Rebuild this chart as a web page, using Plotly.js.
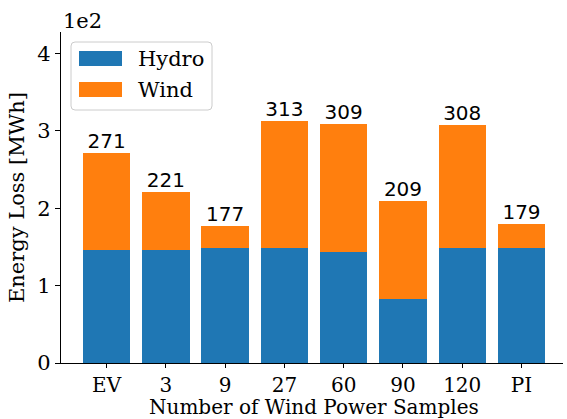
<!DOCTYPE html>
<html>
<head>
<meta charset="utf-8">
<script src="https://cdn.plot.ly/plotly-3.0.1.min.js"></script>
<style>body{margin:0;padding:0;background:#fff;} #chart{width:567px;height:419px;}</style>
</head>
<body>
<div id="chart"></div>
<script>
const categories = ['EV', '3', '9', '27', '60', '90', '120', 'PI'];
const hydro = [146, 146, 148, 148, 144, 83, 149, 149];
const wind = [125, 75, 29, 165, 165, 126, 159, 30];
const totals = [271, 221, 177, 313, 309, 209, 308, 179];
const yTickVals = [0, 100, 200, 300, 400];
const yTickText = ['0', '1', '2', '3', '4'];

const W = 567, H = 419;
const M = {l: 61, r: 4, t: 32, b: 56};
const pw = W - M.l - M.r, ph = H - M.t - M.b;
const px = x => (x - M.l) / pw;
const py = y => (H - M.b - y) / ph;

const serif = 'DejaVu Serif';
const FS = 21;
const idx = categories.map((_, i) => i);

const traces = [
  {type: 'bar', x: idx, y: hydro, name: 'Hydro', marker: {color: '#1f77b4'}, width: 0.8, showlegend: false, hoverinfo: 'skip'},
  {type: 'bar', x: idx, y: wind, name: 'Wind', marker: {color: '#ff7f0e'}, width: 0.8, showlegend: false, hoverinfo: 'skip'},
  {type: 'scatter', mode: 'text', x: idx, y: totals, text: totals.map(String), textposition: 'top center',
   textfont: {family: 'DejaVu Sans', size: 20, color: '#000'}, showlegend: false, hoverinfo: 'skip', cliponaxis: false}
];

// legend drawn manually
const lx0 = 71, ly0 = 42, lx1 = 212, ly1 = 110, r = 4;
const legPath = `M ${px(lx0 + r)} ${py(ly0)} L ${px(lx1 - r)} ${py(ly0)} Q ${px(lx1)} ${py(ly0)} ${px(lx1)} ${py(ly0 + r)} ` +
  `L ${px(lx1)} ${py(ly1 - r)} Q ${px(lx1)} ${py(ly1)} ${px(lx1 - r)} ${py(ly1)} L ${px(lx0 + r)} ${py(ly1)} ` +
  `Q ${px(lx0)} ${py(ly1)} ${px(lx0)} ${py(ly1 - r)} L ${px(lx0)} ${py(ly0 + r)} Q ${px(lx0)} ${py(ly0)} ${px(lx0 + r)} ${py(ly0)} Z`;

const legendItems = [['Hydro', '#1f77b4', 51, 66], ['Wind', '#ff7f0e', 82, 97]];
const shapes = [
  {type: 'path', xref: 'paper', yref: 'paper', path: legPath, line: {color: '#cccccc', width: 1}, fillcolor: 'rgba(255,255,255,0.8)'}
];
const annotations = [
  {text: '1e2', xref: 'paper', yref: 'paper', x: px(61), y: py(21), xanchor: 'left', yanchor: 'middle', showarrow: false,
   font: {family: serif, size: FS, color: '#000'}},
  {text: 'Number of Wind Power Samples', xref: 'paper', yref: 'paper', x: px(313.5), y: py(420), xanchor: 'center', yanchor: 'bottom',
   showarrow: false, font: {family: serif, size: 20, color: '#000'}, borderpad: 0}
];
legendItems.forEach(([name, color, y0, y1]) => {
  shapes.push({type: 'rect', xref: 'paper', yref: 'paper', x0: px(79), x1: px(122), y0: py(y0), y1: py(y1),
    fillcolor: color, line: {width: 0}});
  annotations.push({text: name, xref: 'paper', yref: 'paper', x: px(136), y: py((y0 + y1) / 2), xanchor: 'left', yanchor: 'middle',
    showarrow: false, font: {family: serif, size: FS, color: '#000'}});
});

const layout = {
  width: W, height: H,
  margin: M,
  paper_bgcolor: '#fff', plot_bgcolor: '#fff',
  barmode: 'stack', bargap: 0.2,
  font: {family: serif, size: FS, color: '#000'},
  showlegend: false,
  xaxis: {
    range: [-0.77, 7.7], tickvals: idx, ticktext: categories,
    showgrid: false, zeroline: false, showline: true, linecolor: '#000', linewidth: 1.2,
    ticks: 'outside', ticklen: 4, tickwidth: 1, tickcolor: '#000',
    tickfont: {family: serif, size: 20, color: '#000'}
  },
  yaxis: {
    range: [0, 427.5], tickvals: yTickVals, ticktext: yTickText,
    showgrid: false, zeroline: false, showline: true, linecolor: '#000', linewidth: 1.2,
    ticks: 'outside', ticklen: 5, tickwidth: 1, tickcolor: '#000',
    tickfont: {family: serif, size: FS, color: '#000'},
    title: {text: 'Energy Loss [MWh]', font: {family: serif, size: FS, color: '#000'}, standoff: 6}
  },
  shapes: shapes,
  annotations: annotations
};

Plotly.newPlot('chart', traces, layout, {displayModeBar: false, staticPlot: true});
</script>
</body>
</html>
